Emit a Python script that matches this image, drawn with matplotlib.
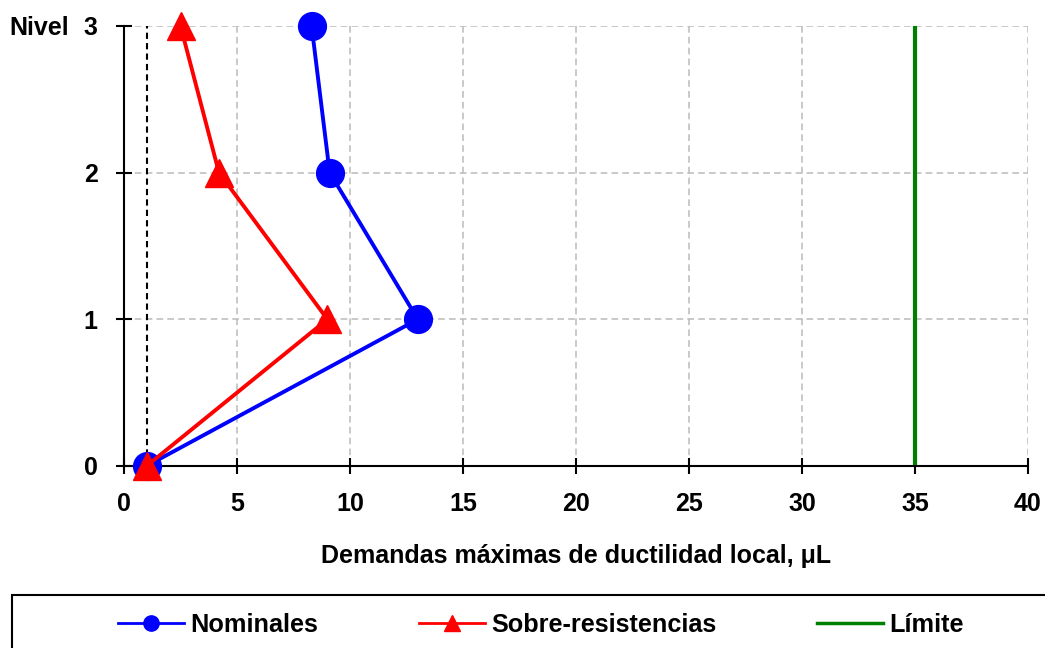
import numpy as np
import matplotlib.pyplot as plt
from matplotlib.lines import Line2D
from matplotlib.patches import Rectangle

plt.rcParams['font.family'] = ['Liberation Sans', 'DejaVu Sans']
plt.rcParams['font.weight'] = 'bold'

niveles = [0, 1, 2, 3]
nominales = [1.0, 13.0, 9.1, 8.3]
sobre_resist = [1.0, 9.0, 4.2, 2.5]
limite = 35
fluencia = 1

fig = plt.figure(figsize=(10.45, 6.48), dpi=100)
ax = fig.add_axes([0.1187, 0.2809, 0.865, 0.679])

ax.grid(True, color='#c0c0c0', linestyle=(0, (4, 2.5)), linewidth=1.2, zorder=0)
ax.set_axisbelow(True)

ax.plot([fluencia, fluencia], [0, 3], color='black', linestyle=(0, (3, 2)),
        linewidth=1.5, zorder=2)
ax.plot([limite, limite], [0, 3], color='#008000', linewidth=3, zorder=2)
ax.plot(nominales, niveles, color='blue', linewidth=2.8, marker='o',
        markersize=20, clip_on=False, zorder=3)
ax.plot(sobre_resist, niveles, color='red', linewidth=2.8, marker='^',
        markersize=20, clip_on=False, zorder=4)

ax.set_xlim(0, 40)
ax.set_ylim(0, 3)
ax.set_xticks(np.arange(0, 41, 5))
ax.set_yticks(niveles)
for s in ['top', 'right']:
    ax.spines[s].set_visible(False)
for s in ['left', 'bottom']:
    ax.spines[s].set_linewidth(1.5)
ax.tick_params(direction='inout', length=12, width=1.5, labelsize=18, pad=13)
for lab in ax.get_xticklabels() + ax.get_yticklabels():
    lab.set_fontweight('bold')

ax.set_xlabel('Demandas máximas de ductilidad local, μL', fontsize=18,
              fontweight='bold', labelpad=20)
fig.text(0.066, 0.9599, 'Nivel', ha='right', va='center_baseline', fontsize=18,
         fontweight='bold')

# legend frame runs off the right and bottom edges
fig.patches.append(Rectangle((12 / 1045, -0.05), 1.05, 0.05 + 1 - 595 / 648,
                             transform=fig.transFigure, fill=False,
                             edgecolor='black', linewidth=1.5))

handles = [
    Line2D([], [], color='blue', linewidth=2, marker='o', markersize=11),
    Line2D([], [], color='red', linewidth=2, marker='^', markersize=11),
    Line2D([], [], color='#008000', linewidth=2.5),
]
labels = ['Nominales', 'Sobre-resistencias', 'Límite']
leg = fig.legend(handles, labels, loc='center left', ncol=3,
                 bbox_to_anchor=(118 / 1045, 1 - 625 / 648), frameon=False,
                 handlelength=2.6, handletextpad=0.25, columnspacing=4.0,
                 borderpad=0, borderaxespad=0,
                 prop={'weight': 'bold', 'size': 18.2})

fig.savefig('out.png', dpi=100)
